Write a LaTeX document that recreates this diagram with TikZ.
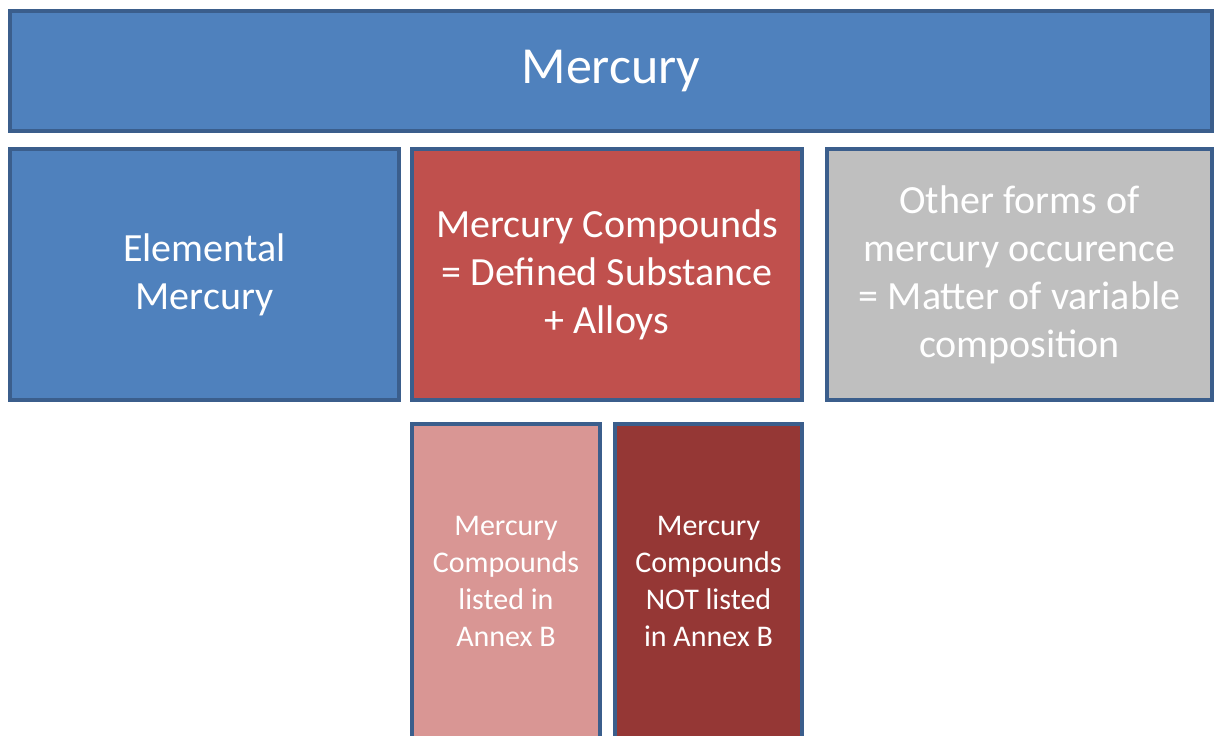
\documentclass[tikz,border=0pt]{standalone}
\usepackage{fontspec}
\setmainfont{Carlito}
\usepackage{tikz}

\definecolor{hgblue}{HTML}{4F81BD}
\definecolor{hgedge}{HTML}{3B5E8C}
\definecolor{hgred}{HTML}{C0504D}
\definecolor{hggrey}{HTML}{BFBFBF}
\definecolor{hgpink}{HTML}{D99694}
\definecolor{hgdark}{HTML}{953735}

\begin{document}
\begin{tikzpicture}[
	x=1pt, y=-1pt,
	block/.style={draw=hgedge, line width=4pt, rectangle, inner sep=0pt,
		text=white, align=center},
	]
	
	%-----------------------
	% Canvas
	%-----------------------
	\useasboundingbox (0,0) rectangle (1216,736);
	
	%-----------------------
	% Row 1: title
	%-----------------------
	\node[block, fill=hgblue, minimum width=1202pt, minimum height=120pt,
		font=\fontsize{52}{62}\selectfont] (Hg) at (611,71) {Mercury};
	
	%-----------------------
	% Row 2: three forms
	%-----------------------
	\tikzset{form/.style={block, minimum height=251pt,
		font=\fontsize{40}{48}\selectfont}}
	\node[form, fill=hgblue, minimum width=389pt] (Elem) at (204.5,274.5)
		{Elemental\\Mercury};
	\node[form, fill=hgred, minimum width=390pt] (Comp) at (607,274.5)
		{Mercury Compounds\\= Defined Substance\\+ Alloys};
	\node[form, fill=hggrey, minimum width=385pt] (Other) at (1019.5,274.5)
		{Other forms of\\mercury occurence\\= Matter of variable\\composition};
	
	%-----------------------
	% Row 3: Annex B split
	%-----------------------
	\tikzset{annex/.style={block, minimum height=314pt,
		font=\fontsize{30}{37}\selectfont}}
	\node[annex, fill=hgpink, minimum width=188pt] (Listed) at (506,581)
		{Mercury\\Compounds\\listed in\\Annex B};
	\node[annex, fill=hgdark, minimum width=187pt] (NotListed) at (708.5,581)
		{Mercury\\Compounds\\NOT listed\\in Annex B};
	
\end{tikzpicture}
\end{document}
